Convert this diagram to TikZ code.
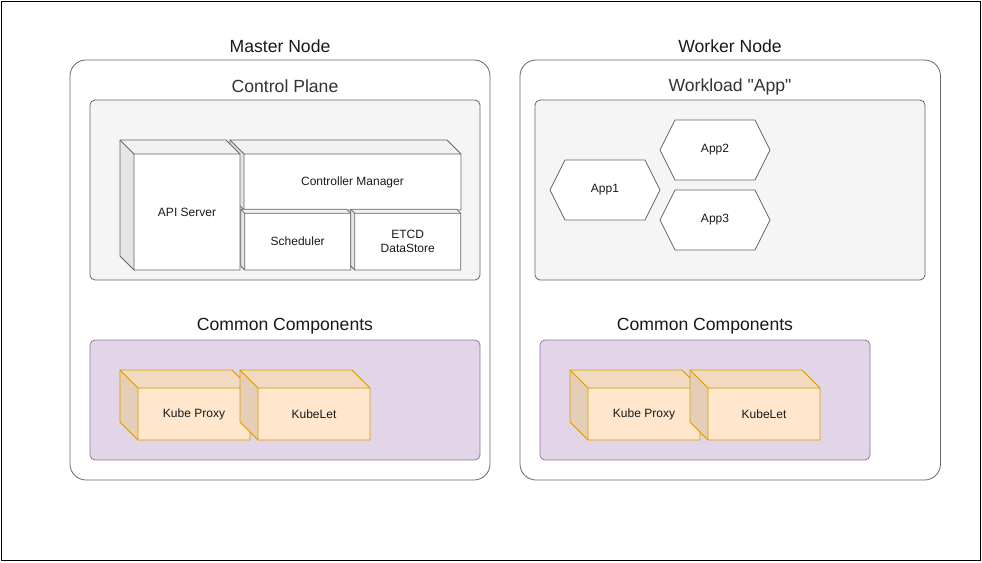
\documentclass[tikz,border=0pt]{standalone}
\usepackage{fontspec}
\newfontfamily\lib{Liberation Sans}
\definecolor{gstroke}{HTML}{666666}
\definecolor{cpfill}{HTML}{F5F5F5}
\definecolor{pfill}{HTML}{E1D5E7}
\definecolor{pstroke}{HTML}{9673A6}
\definecolor{ofill}{HTML}{FFE6CC}
\definecolor{ostroke}{HTML}{D79B00}
\definecolor{ttl}{HTML}{333333}
\newcommand{\kcube}[9]{%
  \fill[#7] (#2,#3) -- ({#4-#6},#3) -- (#4,{#3+#6}) -- (#4,#5) -- ({#2+#6},#5) -- (#2,{#5-#6}) -- cycle;
  \fill[black,opacity=0.1] (#2,#3) -- ({#2+#6},{#3+#6}) -- ({#2+#6},#5) -- (#2,{#5-#6}) -- cycle;
  \fill[black,opacity=0.05] (#2,#3) -- ({#4-#6},#3) -- (#4,{#3+#6}) -- ({#2+#6},{#3+#6}) -- cycle;
  \draw[#8,cubeline] (#2,#3) -- ({#4-#6},#3) -- (#4,{#3+#6}) -- (#4,#5) -- ({#2+#6},#5) -- (#2,{#5-#6}) -- cycle;
  \draw[#8,cubeline] (#2,#3) -- ({#2+#6},{#3+#6}) -- (#4,{#3+#6}) ({#2+#6},{#3+#6}) -- ({#2+#6},#5);
  \node[smalltxt] (#1) at ({(#2+#6+#4)/2},{(#3+#6+#5)/2}) {#9};
}
\newcommand{\khex}[6]{%
  \draw[gstroke,fill=white,cubeline] (#2,{(#3+#5)/2}) -- ({#2+15},#3) -- ({#4-15},#3) -- (#4,{(#3+#5)/2}) -- ({#4-15},#5) -- ({#2+15},#5) -- cycle;
  \node[smalltxt] (#1) at ({(#2+#4)/2},{(#3+#5)/2}) {#6};
}
\begin{document}
\begin{tikzpicture}[x=1pt,y=-1pt,
  bigtxt/.style={font=\lib\fontsize{17.6}{20}\selectfont,text=black!90},
  subtxt/.style={font=\lib\fontsize{17.6}{20}\selectfont,text=ttl},
  smalltxt/.style={font=\lib\fontsize{12}{14}\selectfont,text=black!90,align=center,inner sep=0pt},
  cubeline/.style={line width=0.8pt,line join=miter},
  nodebox/.style={draw=gstroke,line width=0.8pt,rounded corners=16pt,fill=white},
  cpbox/.style={draw=gstroke,fill=cpfill,line width=0.8pt,rounded corners=5pt},
  ccbox/.style={draw=pstroke,fill=pfill,line width=0.8pt,rounded corners=5pt}]
\useasboundingbox (0,0) rectangle (982,562);
\draw[black,line width=1pt] (1,1) rectangle (980.5,560);

% Master node
\draw[nodebox] (70,60) rectangle (490,480);
\node[bigtxt] (mastertitle) at (280,46.5) {Master Node};
\draw[cpbox] (90,100) rectangle (480,280);
\node[subtxt] (cptitle) at (285,86.5) {Control Plane};
\kcube{cm}{230}{140}{461}{210}{14}{white}{gstroke}{Controller Manager}
\kcube{api}{120}{140}{240}{270}{14}{white}{gstroke}{API Server}
\kcube{sched}{240.7}{209.3}{350.7}{270}{4}{white}{gstroke}{Scheduler}
\kcube{etcd}{350.7}{209.3}{460.7}{270}{4}{white}{gstroke}{ETCD\\DataStore}
\draw[ccbox] (90,340) rectangle (480,460);
\node[bigtxt] (cctitle1) at (285,326.5) {Common Components};
\kcube{kp1}{120}{370}{250}{440}{18}{ofill}{ostroke}{Kube Proxy}
\kcube{kl1}{240}{370}{370}{440}{18}{ofill}{ostroke}{KubeLet}

% Worker node
\draw[nodebox] (520,60) rectangle (940.5,480);
\node[bigtxt] (workertitle) at (730,46.5) {Worker Node};
\draw[cpbox] (535,100) rectangle (925,280);
\node[subtxt] (wltitle) at (730,86.5) {Workload "App"};
\khex{app1}{550}{160}{660}{220}{App1}
\khex{app2}{660}{120}{770}{180}{App2}
\khex{app3}{660}{190}{770}{250}{App3}
\draw[ccbox] (540,340) rectangle (870,460);
\node[bigtxt] (cctitle2) at (705,326.5) {Common Components};
\kcube{kp2}{570}{370}{700}{440}{18}{ofill}{ostroke}{Kube Proxy}
\kcube{kl2}{690}{370}{820}{440}{18}{ofill}{ostroke}{KubeLet}
\end{tikzpicture}
\end{document}
